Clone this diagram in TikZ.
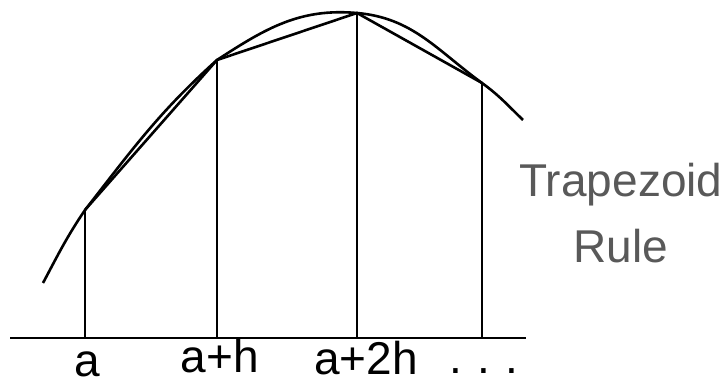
\documentclass[tikz,border=0pt]{standalone}
\usepackage{fontspec}
\setmainfont{Liberation Sans}
\usepackage{xcolor}
\usetikzlibrary{positioning, calc}
\definecolor{rulegray}{HTML}{595959}

\begin{document}
\begin{tikzpicture}[x=0.5pt, y=0.5pt, line width=1.3pt,
    every node/.style={font=\fontsize{23}{27}\selectfont, inner sep=0pt}]
        \useasboundingbox (0,0) rectangle (728,385);
        % x axis
        \coordinate (axisL) at (10,47);
        \coordinate (axisR) at (526,47);
        \draw (axisL) -- (axisR);
        % ordinates at the nodes
        \foreach \x/\y/\n in {85/175/a, 217/325/b, 357/372/c, 482/302/d} {
          \coordinate (base\n) at (\x,47);
          \coordinate (top\n) at (\x,\y);
          \draw (base\n) -- (top\n);
        }
        % the function
        \coordinate (fstart) at (43,102);
        \coordinate (fend) at (523,265);
        \draw (fstart) to[out=62, in=236] (topa)
                       to[out=52, in=222] (topb)
                       to[out=33, in=175] (topc)
                       to[out=-5, in=144] (topd)
                       to[out=-36, in=136] (fend);
        % trapezoid tops
        \draw (topa) -- (topb) -- (topc) -- (topd);
        % labels
        \node[anchor=base] (la) at (87,8) {a};
        \node[anchor=base] (lb) at (220,12) {a+h};
        \node[anchor=base] (lc) at (366,10) {a+2h};
        \node[anchor=base] (ld) at (484,11) {.\,\,.\,\,.};
        % caption
        \node[anchor=base, text=rulegray, font=\fontsize{23}{33}\selectfont] (trap) at (621,188) {Trapezoid};
        \node[anchor=base, text=rulegray, font=\fontsize{23}{33}\selectfont] (rule) at (621,122) {Rule};
      \end{tikzpicture}
\end{document}
